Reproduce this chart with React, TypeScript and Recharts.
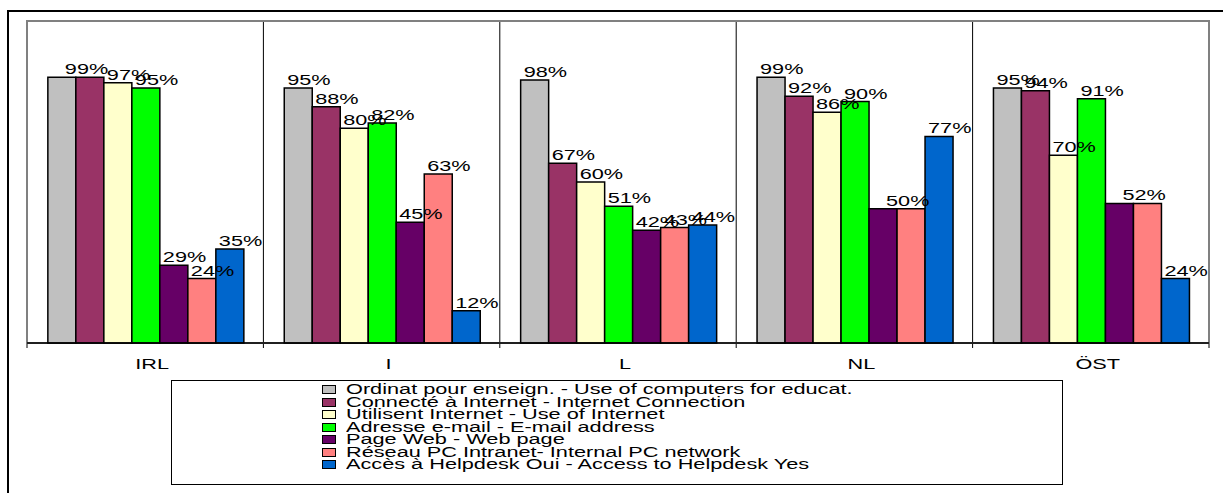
import React from 'react';
import { BarChart, Bar, XAxis, YAxis, CartesianGrid, LabelList, Legend, ReferenceArea } from 'recharts';

const categories = ['IRL', 'I', 'L', 'NL', 'ÖST'];
const seriesNames = [
  'Ordinat pour enseign. - Use of computers for educat.',
  'Connecté à Internet - Internet Connection',
  'Utilisent Internet - Use of Internet',
  'Adresse e-mail - E-mail address',
  'Page Web - Web page',
  'Réseau PC Intranet- Internal PC network',
  'Accès à Helpdesk Oui - Access to Helpdesk Yes',
];
const computersForEducation = [99, 95, 98, 99, 95];
const internetConnection = [99, 88, 67, 92, 94];
const internetUse = [97, 80, 60, 86, 70];
const emailAddress = [95, 82, 51, 90, 91];
const webPage = [29, 45, 42, 50, 52];
const intranetNetwork = [24, 63, 43, 50, 52];
const helpdeskAccess = [35, 12, 44, 77, 24];
const seriesColors = ['#C0C0C0', '#993366', '#FFFFCC', '#00FF00', '#660066', '#FF8080', '#0066CC'];

const seriesValues = [
  computersForEducation,
  internetConnection,
  internetUse,
  emailAddress,
  webPage,
  intranetNetwork,
  helpdeskAccess,
];
const keys = seriesValues.map((_, i) => `s${i}`);
const data = categories.map((c, ci) => {
  const row: Record<string, any> = { cat: c };
  seriesValues.forEach((vals, si) => {
    row[keys[si]] = vals[ci];
  });
  return row;
});

const FONT = '"Liberation Sans", Arial, sans-serif';
const STRETCH = 1.55;

const makeLabel = (s: number) => (props: any) => {
  const { x, y, width, index, value } = props;
  if (value == null || index == null) return null;
  const prevSame = s > 0 && seriesValues[s - 1][index] === value;
  if (prevSame) return null;
  const nextSame = s < seriesValues.length - 1 && seriesValues[s + 1][index] === value;
  const cx = nextSame ? Number(x) + Number(width) : Number(x) + Number(width) / 2;
  const lx = cx - 11;
  const by = Number(y) - 3;
  return (
    <text
      transform={`translate(${lx},${by}) scale(${STRETCH},1)`}
      x={0}
      y={0}
      fontSize={14}
      fontFamily={FONT}
      fill="#000"
      textAnchor="start"
    >
      {`${value}%`}
    </text>
  );
};

const CategoryTick = (props: any) => {
  const { x, y, payload } = props;
  const cx = Number(x) + 7;
  return (
    <g transform={`translate(${cx},${Number(y) + 26}) scale(${STRETCH},1)`}>
      <text x={0} y={0} textAnchor="middle" fontSize={14} fontFamily={FONT} fill="#000">
        {payload.value}
      </text>
    </g>
  );
};

// Category boundaries, derived from the band scale of the category axis
const boundaryGenerator = (args: any) => {
  try {
    const n = categories.length;
    const xAxis = args && args.xAxis;
    const scale = xAxis && xAxis.scale;
    if (scale && typeof scale.range === 'function') {
      const r = scale.range();
      const r0 = Math.min(Number(r[0]), Number(r[r.length - 1]));
      const r1 = Math.max(Number(r[0]), Number(r[r.length - 1]));
      const bw = (r1 - r0) / n;
      return Array.from({ length: n + 1 }, (_, i) => r0 + i * bw);
    }
    const off = args && args.offset;
    if (off) {
      return Array.from({ length: n + 1 }, (_, i) => off.left + (i * off.width) / n);
    }
  } catch (e) {
    // ignore
  }
  return [];
};

const LegendContent = () => (
  <div
    style={{
      width: 892,
      height: 105,
      border: '1px solid #000',
      boxSizing: 'border-box',
      background: '#fff',
      position: 'relative',
      fontFamily: FONT,
    }}
  >
    {seriesNames.map((name, i) => (
      <React.Fragment key={i}>
        <div
          style={{
            position: 'absolute',
            left: 150,
            top: 4 + i * 12.5,
            width: 14,
            height: 9,
            boxSizing: 'border-box',
            background: seriesColors[i],
            border: '1.5px solid #000',
          }}
        />
        <div
          style={{
            position: 'absolute',
            left: 174,
            top: 1 + i * 12.5,
            fontSize: 14,
            lineHeight: '14px',
            whiteSpace: 'nowrap',
            color: '#000',
            transform: `scaleX(${STRETCH})`,
            transformOrigin: 'left center',
          }}
        >
          {name}
        </div>
      </React.Fragment>
    ))}
  </div>
);

export default function App() {
  return (
    <div
      style={{
        position: 'absolute',
        left: 0,
        top: 0,
        width: 1223,
        height: 493,
        overflow: 'hidden',
        background: '#fff',
      }}
    >
      <div
        style={{
          position: 'absolute',
          left: 7,
          top: 10,
          width: 1300,
          height: 600,
          border: '2px solid #000',
          boxSizing: 'border-box',
        }}
      />
      <div style={{ position: 'absolute', left: 0, top: 0 }}>
        <BarChart
          width={1223}
          height={493}
          data={data}
          margin={{ top: 21, right: 14, bottom: 120, left: 27 }}
          barCategoryGap="8.82%"
          barGap={0}
        >
          <XAxis
            dataKey="cat"
            height={30}
            axisLine={{ stroke: '#000', strokeWidth: 1.5 }}
            tickLine={false}
            tickSize={0}
            tickMargin={0}
            interval={0}
            tick={<CategoryTick />}
          />
          <YAxis hide domain={[0, 120]} />
          <CartesianGrid
            horizontal={false}
            y={21}
            height={327}
            stroke="#000"
            strokeWidth={1}
            verticalCoordinatesGenerator={boundaryGenerator}
          />
          <ReferenceArea
            y1={0}
            y2={120}
            fill="none"
            fillOpacity={0}
            stroke="#808080"
            strokeWidth={2}
          />
          {keys.map((k, i) => (
            <Bar
              key={k}
              dataKey={k}
              name={seriesNames[i]}
              fill={seriesColors[i]}
              stroke="#000"
              strokeWidth={1.5}
              isAnimationActive={false}
            >
              <LabelList dataKey={k} content={makeLabel(i)} />
            </Bar>
          ))}
          <Legend
            layout="vertical"
            align="center"
            verticalAlign="middle"
            content={<LegendContent />}
            wrapperStyle={{ position: 'absolute', left: 171, top: 380, width: 892, height: 105 }}
          />
        </BarChart>
      </div>
    </div>
  );
}
